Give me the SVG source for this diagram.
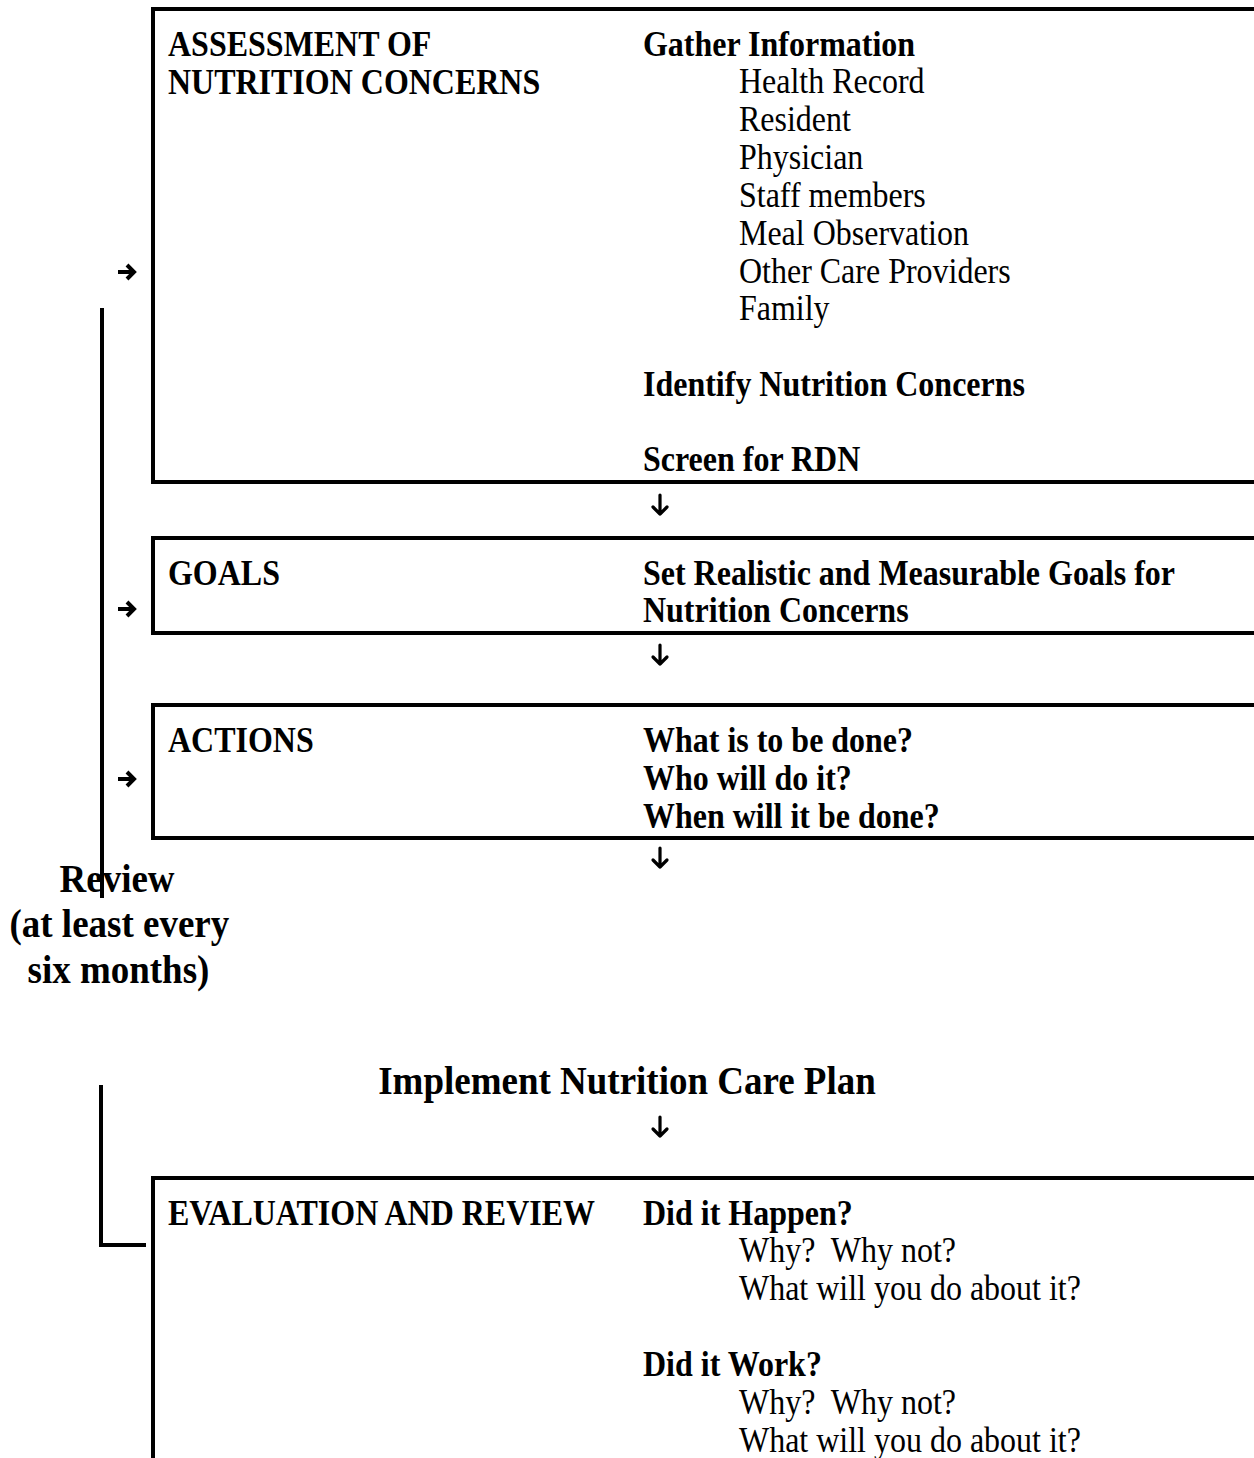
<svg xmlns="http://www.w3.org/2000/svg" width="1254" height="1458" viewBox="0 0 1254 1458">
<style>
text{font-family:"Liberation Serif","Times New Roman",serif;font-size:35px;fill:#000;white-space:pre}
.b{font-weight:bold}
.big{font-size:40px;font-weight:bold}
.box{fill:none;stroke:#000;stroke-width:4}
.ln{fill:none;stroke:#000;stroke-width:4}
.ar{fill:none;stroke:#000;stroke-width:3.2;stroke-linecap:round;stroke-linejoin:round}
.rar{fill:none;stroke:#000;stroke-width:4;stroke-linejoin:miter}
</style>
<rect width="1254" height="1458" fill="#fff"/>
<g id="assessment">
<path class="box" d="M1260 9 H153 V482 H1260"/>
<g transform="translate(168,0) scale(0.914,1) translate(-168,0)">
<text class="b" x="168" y="56">ASSESSMENT OF</text>
<text class="b" x="168" y="94">NUTRITION CONCERNS</text>
</g>
<g transform="translate(643,0) scale(0.914,1) translate(-643,0)">
<text class="b" x="643" y="56">Gather Information</text>
<text class="b" x="643" y="396">Identify Nutrition Concerns</text>
<text class="b" x="643" y="471">Screen for RDN</text>
</g>
<g transform="translate(739,0) scale(0.914,1) translate(-739,0)">
<text x="739" y="93">Health Record</text>
<text x="739" y="131">Resident</text>
<text x="739" y="169">Physician</text>
<text x="739" y="207">Staff members</text>
<text x="739" y="245">Meal Observation</text>
<text x="739" y="283">Other Care Providers</text>
<text x="739" y="320">Family</text>
</g>
</g>
<g id="goals">
<path class="box" d="M1260 538 H153 V633 H1260"/>
<g transform="translate(168,0) scale(0.914,1) translate(-168,0)">
<text class="b" x="168" y="585">GOALS</text>
</g>
<g transform="translate(643,0) scale(0.914,1) translate(-643,0)">
<text class="b" x="643" y="585">Set Realistic and Measurable Goals for</text>
<text class="b" x="643" y="622">Nutrition Concerns</text>
</g>
</g>
<g id="actions">
<path class="box" d="M1260 705 H153 V838 H1260"/>
<g transform="translate(168,0) scale(0.914,1) translate(-168,0)">
<text class="b" x="168" y="752">ACTIONS</text>
</g>
<g transform="translate(643,0) scale(0.914,1) translate(-643,0)">
<text class="b" x="643" y="752">What is to be done?</text>
<text class="b" x="643" y="790">Who will do it?</text>
<text class="b" x="643" y="828">When will it be done?</text>
</g>
</g>
<g id="review" transform="translate(118,0) scale(0.925,1) translate(-118,0)">
<text class="big" x="117" y="892" text-anchor="middle">Review</text>
<text class="big" x="119.5" y="937" text-anchor="middle">(at least every</text>
<text class="big" x="118.5" y="983" text-anchor="middle">six months)</text>
</g>
<g id="implement" transform="translate(627,0) scale(0.925,1) translate(-627,0)">
<text class="big" x="627" y="1094" text-anchor="middle">Implement Nutrition Care Plan</text>
</g>
<g id="evaluation">
<path class="box" d="M1260 1178 H153 V1460"/>
<g transform="translate(168,0) scale(0.914,1) translate(-168,0)">
<text class="b" x="168" y="1225">EVALUATION AND REVIEW</text>
</g>
<g transform="translate(643,0) scale(0.914,1) translate(-643,0)">
<text class="b" x="643" y="1225">Did it Happen?</text>
<text class="b" x="643" y="1376">Did it Work?</text>
</g>
<g transform="translate(739,0) scale(0.914,1) translate(-739,0)">
<text x="739" y="1262">Why?  Why not?</text>
<text x="739" y="1300">What will you do about it?</text>
<text x="739" y="1414">Why?  Why not?</text>
<text x="739" y="1452">What will you do about it?</text>
</g>
</g>
<g id="connectors">
<path class="ln" d="M102 308 V898"/>
<path class="ln" d="M101 1085 V1245 H146"/>
<path class="rar" d="M118 272 H134 M127 265 L134 272 L127 279"/>
<path class="rar" d="M118 609 H134 M127 602 L134 609 L127 616"/>
<path class="rar" d="M118 779 H134 M127 772 L134 779 L127 786"/>
<path class="ar" d="M660 495 V514 M653 507 L660 514 L667 507"/>
<path class="ar" d="M660 645 V664 M653 657 L660 664 L667 657"/>
<path class="ar" d="M660 848 V867 M653 860 L660 867 L667 860"/>
<path class="ar" d="M660 1117 V1136 M653 1129 L660 1136 L667 1129"/>
</g>
</svg>
